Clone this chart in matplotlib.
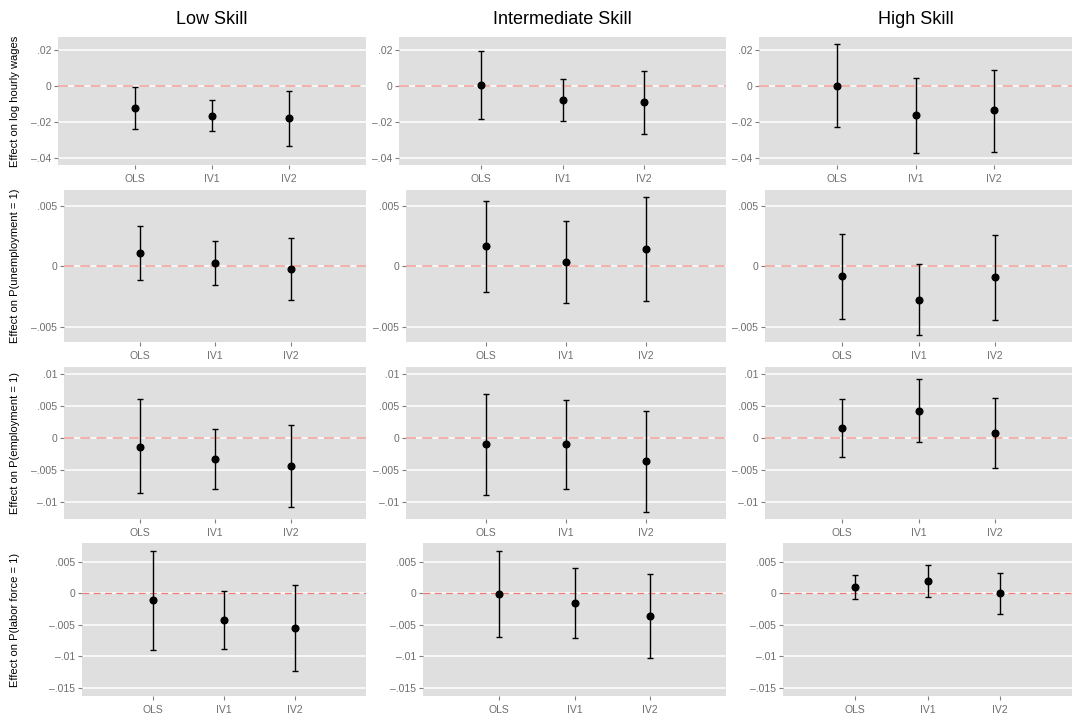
import numpy as np
import matplotlib
matplotlib.use("Agg")
import matplotlib.pyplot as plt

plt.rcParams["font.family"] = ["Liberation Sans", "DejaVu Sans"]

SKILLS = ["Low Skill", "Intermediate Skill", "High Skill"]
METHODS = ["OLS", "IV1", "IV2"]
OUTCOMES = ["Effect on log hourly wages", "Effect on P(unemployment = 1)",
            "Effect on P(employment = 1)", "Effect on P(labor force = 1)"]

# point estimates and CI bounds, one row per skill group (OLS, IV1, IV2)
wage_est = [[-0.0124, -0.0165, -0.0180], [0.0005, -0.0078, -0.0091], [0.0000, -0.0163, -0.0135]]
wage_lo = [[-0.0240, -0.0250, -0.0332], [-0.0185, -0.0196, -0.0267], [-0.0230, -0.0370, -0.0365]]
wage_hi = [[-0.0003, -0.0076, -0.0030], [0.0194, 0.0040, 0.0083], [0.0231, 0.0046, 0.0091]]

unemp_est = [[0.00111, 0.00025, -0.00022], [0.00167, 0.00039, 0.00144], [-0.00078, -0.00275, -0.00086]]
unemp_lo = [[-0.00111, -0.00156, -0.00280], [-0.00211, -0.00300, -0.00283], [-0.00430, -0.00570, -0.00439]]
unemp_hi = [[0.00333, 0.00208, 0.00239], [0.00544, 0.00375, 0.00572], [0.00269, 0.00019, 0.00264]]

emp_est = [[-0.00136, -0.00325, -0.00430], [-0.00100, -0.00100, -0.00360], [0.00152, 0.00430, 0.00079]]
emp_lo = [[-0.00864, -0.00790, -0.01073], [-0.00890, -0.00790, -0.01150], [-0.00300, -0.00063, -0.00476]]
emp_hi = [[0.00602, 0.00141, 0.00210], [0.00690, 0.00600, 0.00430], [0.00610, 0.00916, 0.00620]]

lf_est = [[-0.00110, -0.00422, -0.00549], [-0.00016, -0.00153, -0.00354], [0.00095, 0.00195, 0.00000]]
lf_lo = [[-0.00903, -0.00882, -0.01230], [-0.00690, -0.00702, -0.01020], [-0.00090, -0.00053, -0.00322]]
lf_hi = [[0.00676, 0.00037, 0.00132], [0.00676, 0.00401, 0.00312], [0.00285, 0.00444, 0.00327]]

wage_ticks = [-0.04, -0.02, 0, 0.02]
wage_labels = ["\u2013.04", "\u2013.02", "0", ".02"]
unemp_ticks = [-0.005, 0, 0.005]
unemp_labels = ["\u2013.005", "0", ".005"]
emp_ticks = [-0.01, -0.005, 0, 0.005, 0.01]
emp_labels = ["\u2013.01", "\u2013.005", "0", ".005", ".01"]
lf_ticks = [-0.015, -0.01, -0.005, 0, 0.005]
lf_labels = ["\u2013.015", "\u2013.01", "\u2013.005", "0", ".005"]

# (est, lo, hi, ticks, labels, ylim, zero-line colour, zero-line width)
rows = [
    (wage_est, wage_lo, wage_hi, wage_ticks, wage_labels, (-0.0439, 0.0272), "#f3aaa3", 1.3),
    (unemp_est, unemp_lo, unemp_hi, unemp_ticks, unemp_labels, (-0.00624, 0.00632), "#f3aaa3", 1.3),
    (emp_est, emp_lo, emp_hi, emp_ticks, emp_labels, (-0.01266, 0.0111), "#f3aaa3", 1.3),
    (lf_est, lf_lo, lf_hi, lf_ticks, lf_labels, (-0.01627, 0.008), "#f07a74", 0.9),
]

# panel boxes in pixels (left, right, top, bottom); widths vary with tick label width
W, H = 1076, 717
row_y = [(37, 165), (190, 342), (367, 519), (543, 696)]
col_x = [
    [(58, 366), (399, 726), (759, 1072)],
    [(64, 366), (406, 726), (765, 1072)],
    [(64, 366), (406, 726), (765, 1072)],
    [(82, 366), (423, 726), (783, 1072)],
]

fig = plt.figure(figsize=(W / 100, H / 100), dpi=100)
fig.patch.set_facecolor("white")

xpos = np.arange(1, len(METHODS) + 1)
for r, (est, lo, hi, ticks, labels, ylim, zcol, zlw) in enumerate(rows):
    y0, y1 = row_y[r]
    for c in range(3):
        x0, x1 = col_x[r][c]
        ax = fig.add_axes([x0 / W, 1 - y1 / H, (x1 - x0) / W, (y1 - y0) / H])
        ax.set_facecolor("#dfdfdf")
        for s in ax.spines.values():
            s.set_visible(False)
        e = np.array(est[c]); l = np.array(lo[c]); h = np.array(hi[c])
        for t in ticks:
            ax.axhline(t, color="white", lw=1.1, zorder=1)
        ax.axhline(0, color=zcol, lw=zlw, ls=(0, (5.5, 3.5)), zorder=2)
        ax.errorbar(xpos, e, yerr=[e - l, h - e], fmt="o", color="black",
                    ms=4.8, elinewidth=1.0, capsize=2, capthick=1.0, zorder=3)
        ax.set_xlim(0, 4)
        ax.set_ylim(*ylim)
        ax.set_xticks(xpos)
        ax.set_xticklabels(METHODS)
        ax.set_yticks(ticks)
        ax.set_yticklabels(labels)
        ax.tick_params(axis="both", colors="#7f7f7f", labelcolor="#6e6e6e",
                       labelsize=7.5, length=3, width=0.8, pad=2)
        ax.tick_params(axis="x", pad=3.5)
        if r == 0:
            ax.set_title(SKILLS[c], fontsize=13, pad=9)
        if c == 0:
            fig.text(15 / W, 1 - (y0 + y1) / 2 / H, OUTCOMES[r], rotation=90,
                     ha="center", va="center", fontsize=8)

fig.savefig("out.png", dpi=100, facecolor="white")
